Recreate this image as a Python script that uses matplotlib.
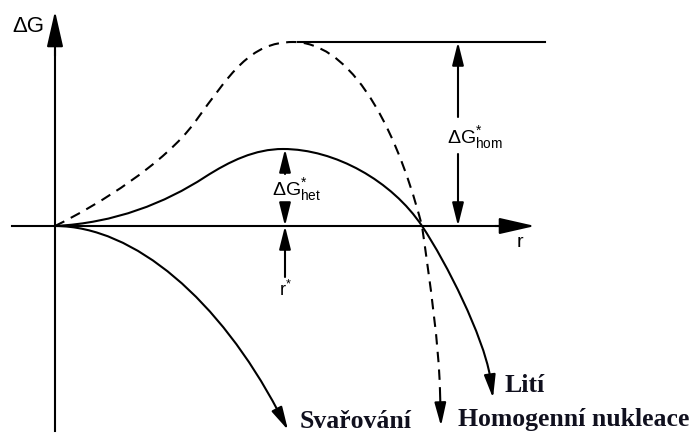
import matplotlib.pyplot as plt
from matplotlib.patches import FancyArrowPatch, PathPatch
from matplotlib.path import Path

plt.rcParams['mathtext.fontset'] = 'custom'
plt.rcParams['mathtext.rm'] = 'Liberation Sans'
plt.rcParams['mathtext.it'] = 'Liberation Sans'
plt.rcParams['mathtext.default'] = 'rm'

# ridici body Bezierovych krivek (r, dG) odectene z obrazku
# kazda krivka: start + trojice (ridici, ridici, koncovy bod); posledni bod = hrot sipky
hom_pts = [(0, 0),
           (45, 22), (110, 63), (140, 104),
           (175, 152), (195, 184), (238, 184),
           (290, 184), (337, 115), (367, 0),
           (375, -56), (384, -120), (385, -165)]
hom_tip = (386, -200)

het_pts = [(0, 0),
           (60, 3), (110, 23), (150, 49),
           (175, 65), (200, 77), (228, 77),
           (280, 77), (337, 45), (367, 0),
           (392, -37.5), (428, -110), (435, -150)]
het_tip = (438, -172)

low_pts = [(0, 0),
           (80, 0), (165, -75), (223, -185)]
low_tip = (233, -204)

r_crit = 230       # r*
g_het = 77         # dG*het
g_hom = 184        # dG*hom
r_hom_line = 403   # poloha sipky dG*hom
r_top = [243, 490] # horni vodorovna cara

fig = plt.figure(figsize=(6.94, 4.35), dpi=100)
ax = fig.add_axes([0, 0, 1, 1])
ax.set_xlim(-55, 639)
ax.set_ylim(-208, 227)
ax.axis('off')

lw = 1.5


def arrow(p0, p1, hl=14, hw=3.5):
    a = FancyArrowPatch(p0, p1, arrowstyle='-|>,head_length=%g,head_width=%g' % (hl, hw),
                        mutation_scale=1, color='black', lw=lw,
                        shrinkA=0, shrinkB=0)
    ax.add_patch(a)


def curve(pts, tip, **kw):
    codes = [Path.MOVETO] + [Path.CURVE4] * (len(pts) - 1)
    ax.add_patch(PathPatch(Path(pts, codes), fill=False, edgecolor='black', lw=lw,
                           capstyle='butt', **kw))
    # sipka ve smeru posledniho ridiciho bodu
    arrow(pts[-1], tip)


# osy
ax.plot([-43, 448], [0, 0], color='black', lw=lw)
arrow((440, 0), (480, 0), hl=22, hw=5)
ax.plot([0, 0], [-205, 175], color='black', lw=lw)
arrow((0, 170), (0, 215), hl=22, hw=5)

# krivky
curve(hom_pts, hom_tip, linestyle=(0, (5, 3.5)))
curve(het_pts, het_tip)
curve(low_pts, low_tip)

# dG*hom
ax.plot(r_top, [g_hom, g_hom], color='black', lw=lw)
arrow((r_hom_line, 109), (r_hom_line, g_hom))
arrow((r_hom_line, 72), (r_hom_line, 0))
ax.text(r_hom_line - 11, 89, r'$\Delta G^{*}_{hom}$', fontsize=14, ha='left', va='center')

# dG*het a r*
arrow((r_crit, 52), (r_crit, g_het))
arrow((r_crit, 22), (r_crit, 0))
arrow((r_crit, -51), (r_crit, 0))
ax.text(r_crit - 13, 37, r'$\Delta G^{*}_{het}$', fontsize=14, ha='left', va='center')
ax.text(r_crit, -63, r'$r^{*}$', fontsize=13, ha='center', va='center')

ax.text(-43, 200, 'ΔG', fontsize=16, family='Liberation Sans', ha='left', va='center')
ax.text(462, -16, 'r', fontsize=14, family='Liberation Sans', ha='left', va='center')

tc = '#10101e'
ax.text(450, -159, 'Lití', fontsize=18.5, family='Liberation Serif', weight='bold', color=tc,
        ha='left', va='center')
ax.text(403, -193, 'Homogenní nukleace', fontsize=18.5, family='Liberation Serif', weight='bold',
        color=tc, ha='left', va='center')
ax.text(245, -195, 'Svařování', fontsize=18.5, family='Liberation Serif', weight='bold', color=tc,
        ha='left', va='center')

plt.savefig('out.png', dpi=100)
